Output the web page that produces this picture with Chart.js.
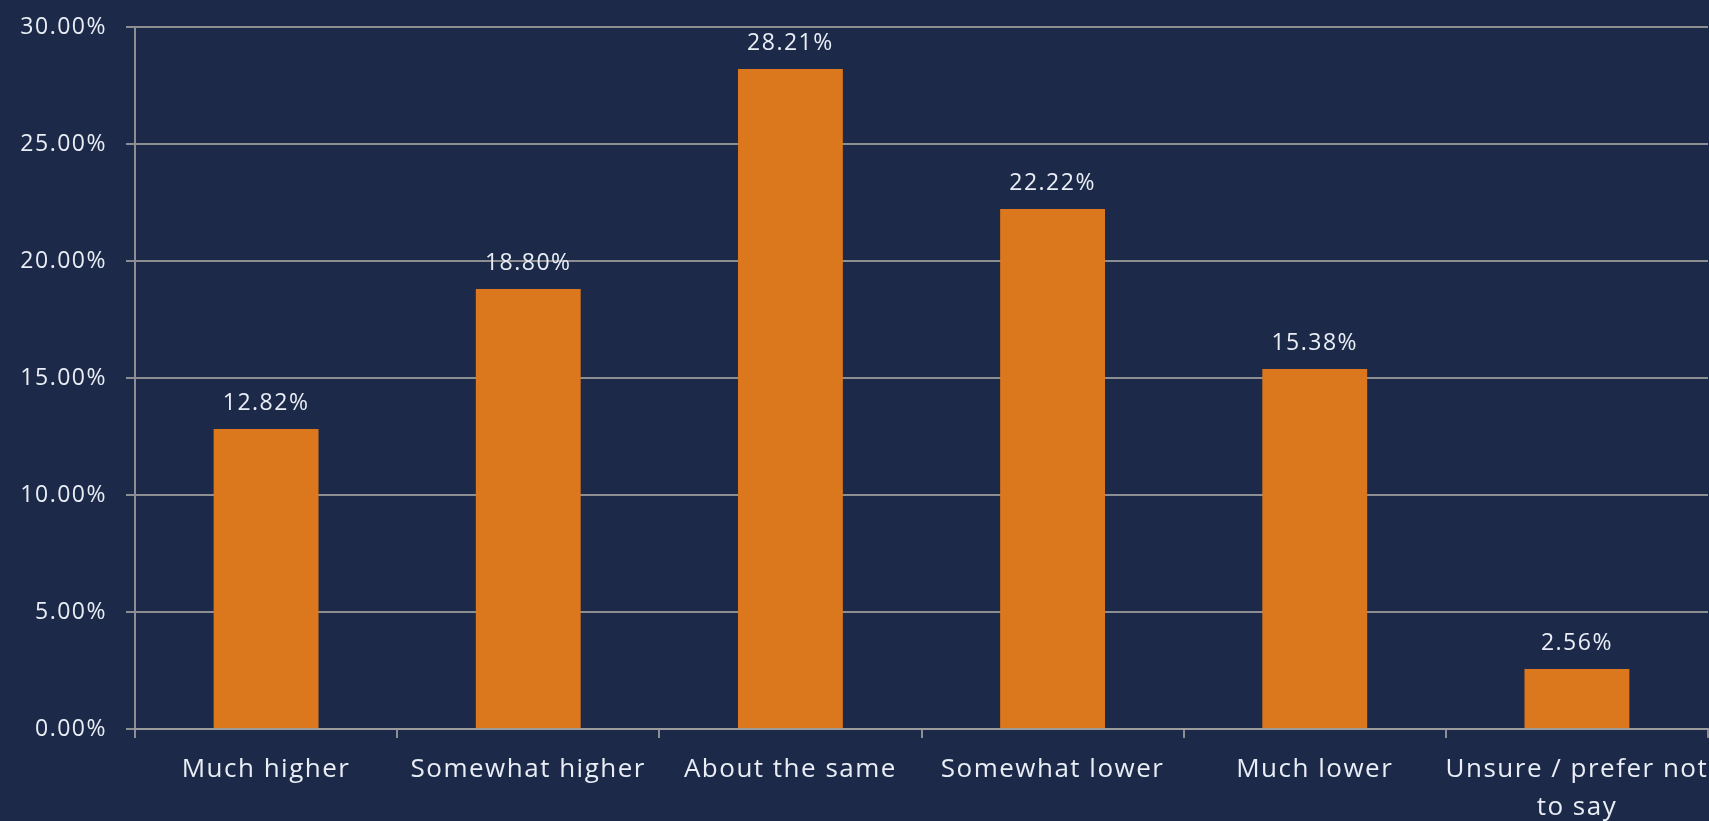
<!DOCTYPE html>
<html>
<head>
<meta charset="utf-8">
<title>Survey responses</title>
<script src="https://cdn.jsdelivr.net/npm/chart.js@4"></script>
<style>
  html, body { margin: 0; padding: 0; background: #1c2948; }
  #wrap { width: 1709px; height: 821px; }
</style>
</head>
<body>
<div id="wrap"><canvas id="chart" width="1709" height="821"></canvas></div>
<script>
// Categories and share of respondents (%)
const categories = [
    'Much higher',
    'Somewhat higher',
    'About the same',
    'Somewhat lower',
    'Much lower',
    ['Unsure / prefer not', 'to say']
];
const shares = [12.82, 18.80, 28.21, 22.22, 15.38, 2.56];
const yTicks = [0, 5, 10, 15, 20, 25, 30];

const textColor = '#e9eef6';
const gridColor = 'rgba(160, 160, 160, 0.85)';
const fontFamily = "'Open Sans', 'Noto Sans', sans-serif";
const tracking = '1.5px';

// wider tracking for all canvas text
const spacing = {
    id: 'spacing',
    beforeDraw(chart) {
        chart.ctx.letterSpacing = tracking;
    }
};

// value labels above each bar
const barLabels = {
    id: 'barLabels',
    afterDatasetsDraw(chart) {
        const ctx = chart.ctx;
        const meta = chart.getDatasetMeta(0);
        ctx.save();
        ctx.letterSpacing = tracking;
        ctx.fillStyle = textColor;
        ctx.font = '23px ' + fontFamily;
        ctx.textAlign = 'center';
        ctx.textBaseline = 'alphabetic';
        meta.data.forEach((bar, i) => {
            ctx.fillText(shares[i].toFixed(2) + '%', bar.x, bar.y - 19);
        });
        ctx.restore();
    }
};

const ctx = document.getElementById('chart').getContext('2d');
const chart = new Chart(ctx, {
    type: 'bar',
    data: {
        labels: categories,
        datasets: [{
            data: shares,
            backgroundColor: '#db771d',
            barPercentage: 0.4,
            categoryPercentage: 1
        }]
    },
    options: {
        responsive: false,
        animation: false,
        layout: { padding: { top: 27, right: 1, left: 0, bottom: 0 } },
        plugins: {
            legend: { display: false },
            tooltip: { enabled: false }
        },
        scales: {
            x: {
                grid: {
                    drawOnChartArea: false,
                    drawTicks: true,
                    tickLength: 9,
                    color: gridColor,
                    lineWidth: 2
                },
                border: { color: gridColor, width: 2 },
                ticks: {
                    color: textColor,
                    font: { family: fontFamily, size: 26, lineHeight: 1.46 },
                    padding: 13,
                    maxRotation: 0,
                    autoSkip: false
                },
                afterFit(scale) {
                    scale.height = 92;
                    scale.paddingLeft = 0;
                    scale.paddingRight = 0;
                }
            },
            y: {
                min: 0,
                max: 30,
                afterBuildTicks(scale) {
                    scale.ticks = yTicks.map(v => ({ value: v }));
                },
                grid: {
                    color: gridColor,
                    lineWidth: 2,
                    tickLength: 9
                },
                border: { color: gridColor, width: 2 },
                ticks: {
                    color: textColor,
                    font: { family: fontFamily, size: 23 },
                    padding: 19,
                    callback: v => v.toFixed(2) + '%'
                },
                afterFit(scale) {
                    scale.width = 135;
                    scale.paddingTop = 0;
                    scale.paddingBottom = 0;
                }
            }
        }
    },
    plugins: [spacing, barLabels]
});
</script>
</body>
</html>
